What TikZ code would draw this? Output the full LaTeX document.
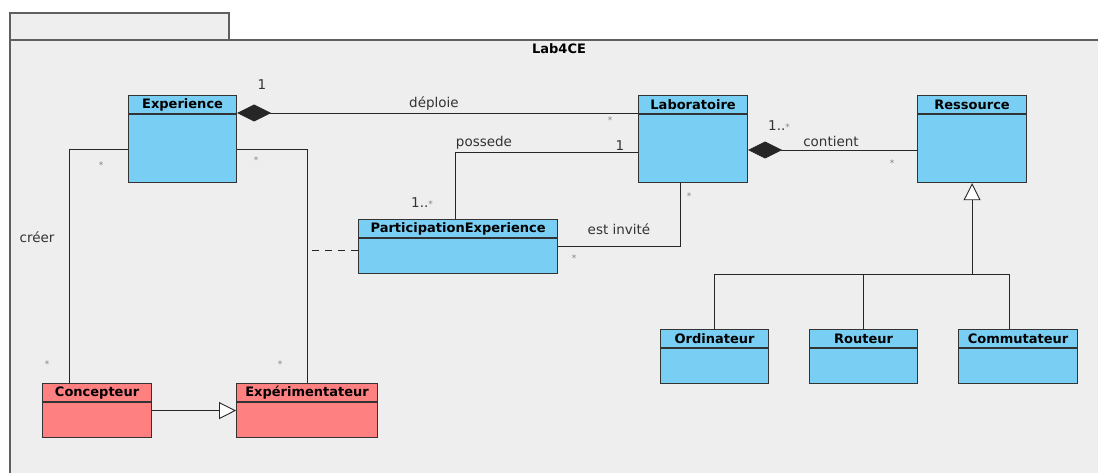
\documentclass[tikz,border=0pt]{standalone}
\usepackage{fontspec}
\setmainfont{DejaVu Sans}
\usetikzlibrary{arrows.meta,positioning}
\definecolor{classblue}{RGB}{121,206,243}
\definecolor{classred}{RGB}{255,128,128}
\definecolor{framebg}{RGB}{238,238,238}
\definecolor{framegray}{RGB}{95,95,95}
\definecolor{labelgray}{RGB}{51,51,51}
\tikzset{
	classbox/.style={draw=black!80, line width=1.2pt, inner sep=0pt, anchor=north west},
	classsep/.style={draw=black!80, line width=1.1pt},
	classtitle/.style={font=\bfseries\fontsize{13}{13}\selectfont, inner sep=0pt},
	assoc/.style={draw=black!85, line width=0.9pt},
	compo/.style={assoc, {Diamond[length=34pt,width=17pt]}-},
	inherit/.style={assoc, -{Triangle[open,length=17pt,width=17pt,fill=white]}},
	rolename/.style={font=\fontsize{13.5}{13.5}\selectfont, text=labelgray, inner sep=1pt},
	mult/.style={font=\fontsize{9}{9}\selectfont, text=gray, inner sep=0pt},
}
% name, x, y, width, height, fill, title
\newcommand{\umlclass}[7]{%
	\node[classbox, fill=#6, minimum width=#4pt, minimum height=#5pt] (#1) at (#2,#3) {};
	\draw[classsep] ([yshift=-19pt]#1.north west) -- ([yshift=-19pt]#1.north east);
	\node[classtitle] (#1-title) at ([yshift=-10pt]#1.north) {#7};
}
\newcommand{\manystar}{{\color{gray}\fontsize{9}{9}\selectfont*}}

\begin{document}
\begin{tikzpicture}[x=1pt,y=-1pt]
	\useasboundingbox (0,0) rectangle (1098,473);
	% package frame
	\fill[white] (0,0) rectangle (1098,473);
	\filldraw[fill=framebg, draw=framegray, line width=1.2pt] (10,40) rectangle (229,13);
	\fill[framebg] (10,40) rectangle (1102,476);
	\draw[framegray, line width=1.4pt] (1102,40) -- (10,40) -- (10,476);
	\node[font=\bfseries\fontsize{13}{13}\selectfont, inner sep=0pt] (pkg) at (559,49) {Lab4CE};

	% classes
	\umlclass{exp}{128}{95}{108}{87}{classblue}{Experience}
	\umlclass{lab}{638}{95}{109}{87}{classblue}{Laboratoire}
	\umlclass{res}{917}{95}{109}{87}{classblue}{Ressource}
	\umlclass{part}{358}{219}{199}{54}{classblue}{ParticipationExperience}
	\umlclass{con}{42}{383}{109}{54}{classred}{Concepteur}
	\umlclass{expe}{236}{383}{141}{54}{classred}{Expérimentateur}
	\umlclass{ord}{660}{329}{108}{54}{classblue}{Ordinateur}
	\umlclass{rou}{809}{329}{108}{54}{classblue}{Routeur}
	\umlclass{com}{958}{329}{119}{54}{classblue}{Commutateur}

	% helper points
	\coordinate (fork) at (res.south |- 0,274);
	\coordinate (comtop) at ([xshift=-9pt]com.north);
	\coordinate (parttop) at ([xshift=-2.5pt]part.north);
	\coordinate (labbot) at ([xshift=-12.5pt]lab.south);
	\coordinate (contop) at ([xshift=-27.5pt]con.north);
	\coordinate (partleft) at ([yshift=-4pt]part.west);

	% associations
	\draw[compo] ([yshift=-18pt]exp.north east) -- ([yshift=-18pt]lab.north west);
	\draw[compo] ([yshift=-55pt]lab.north east) -- ([yshift=-55pt]res.north west);
	\draw[assoc] ([yshift=-57pt]lab.north west) -| (parttop);
	\draw[assoc] ([yshift=-27pt]part.north east) -| (labbot);
	\draw[assoc] ([yshift=-54pt]exp.north west) -| (contop);
	\draw[assoc] ([yshift=-54pt]exp.north east) -| (expe.north);
	\draw[assoc, dash pattern=on 7pt off 6pt] (partleft) -- (expe.north |- partleft);

	% generalisations
	\draw[inherit] (fork) -- (res.south);
	\draw[assoc] (ord.north) |- (comtop |- fork) -- (comtop);
	\draw[assoc] (rou.north) -- (rou.north |- fork);
	\draw[inherit] (con.east) -- (expe.west);

	% labels
	\node[rolename] (l-dep) at (434,104) {déploie};
	\node[rolename] (l-pos) at (484,143) {possede};
	\node[rolename] (l-inv) at (619,229) {est invité};
	\node[rolename] (l-cont) at (831,141) {contient};
	\node[rolename] (l-cre) at (37,237) {créer};

	\node[rolename] (m-dep-exp) at (262,85) {1};
	\node[mult] (m-dep-lab) at (610,120) {*};
	\node[rolename] (m-pos-lab) at (620,146) {1};
	\node[rolename] (m-pos-part) at (422,203) {1..\manystar};
	\node[mult] (m-inv-part) at (574,258) {*};
	\node[mult] (m-inv-lab) at (689,196) {*};
	\node[rolename] (m-cont-lab) at (779,126) {1..\manystar};
	\node[mult] (m-cont-res) at (892,163) {*};
	\node[mult] (m-cre-exp) at (101,165) {*};
	\node[mult] (m-cre-con) at (47,364) {*};
	\node[mult] (m-exp-r) at (256,160) {*};
	\node[mult] (m-expe) at (280,364) {*};
\end{tikzpicture}
\end{document}
